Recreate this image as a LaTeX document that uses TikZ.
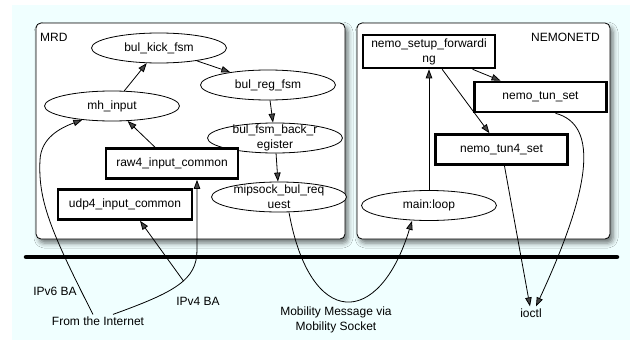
\documentclass[tikz,border=0pt]{standalone}
\usepackage{fontspec}
\setmainfont{Liberation Sans}
\usetikzlibrary{shapes.geometric,arrows.meta,shadows.blur}
\definecolor{bgcyan}{RGB}{240,255,255}

\begin{document}
\begin{tikzpicture}[x=1pt,y=-1pt,
  font=\fontsize{12}{15}\selectfont,
  every node/.style={align=center},
  fn/.style={ellipse, draw, line width=0.8pt, fill=white,
    minimum width=135pt, minimum height=30pt, inner sep=-4pt},
  bx/.style={rectangle, draw, line width=2.6pt, fill=white,
    minimum width=132pt, minimum height=30pt, inner sep=0pt},
  container/.style={draw, line width=0.8pt, fill=white, rounded corners=5pt,
    blur shadow={shadow xshift=3pt, shadow yshift=-4pt,
      shadow blur radius=5pt, shadow opacity=55}},
  lbl/.style={inner sep=2pt},
  arr/.style={line width=0.8pt, -{Triangle[length=9pt,width=6.5pt]}},
  bus/.style={line width=4.5pt, line cap=round}
]
\useasboundingbox (0,0) rectangle (630,340);
\fill[bgcyan] (12,5) rectangle (630,340);

% the two process boxes
\path[container] (36,23) rectangle (345,239);
\path[container] (357,23) rectangle (610,239);

% kernel boundary
\draw[bus] (26,257) -- (617,257);

\node[lbl, anchor=west] (mrdlabel) at (38,37) {MRD};
\node[lbl, anchor=east] (nemolabel) at (602,37) {NEMONETD};

% MRD functions
\node[fn] (kick) at (159,48) {bul\_kick\_fsm};
\node[fn] (reg) at (268,85) {bul\_reg\_fsm};
\node[fn] (mh) at (112,106) {mh\_input};
\node[fn] (back) at (275,138) {bul\_fsm\_back\_r\\egister};
\node[fn] (mipsock) at (279,197) {mipsock\_bul\_req\\uest};
\node[bx] (raw4) at (172,163.5) {raw4\_input\_common};
\node[bx, minimum width=134pt] (udp4) at (125,204.5) {udp4\_input\_common};

% NEMONETD functions
\node[bx, minimum height=33pt] (setup) at (429,51.5) {nemo\_setup\_forwardi\\ng};
\node[bx] (tunset) at (540.5,97) {nemo\_tun\_set};
\node[bx] (tunfour) at (501.5,149.5) {nemo\_tun4\_set};
\node[fn] (mainloop) at (429,205.5) {main:loop};

% outside labels
\node[lbl] (ipv6) at (55,291) {IPv6 BA};
\node[lbl] (ipv4) at (198,301) {IPv4 BA};
\node[lbl] (inet) at (98,321) {From the Internet};
\node[lbl] (mobmsg) at (336,320) {Mobility Message via\\Mobility Socket};
\node[lbl] (ioctl) at (531,313) {ioctl};

% calls inside MRD
\draw[arr] (mh) -- (kick);
\draw[arr] (kick) -- (reg);
\draw[arr] (reg) -- (back);
\draw[arr] (back) -- (mipsock);
\draw[arr] (raw4) -- (mh);

% calls inside NEMONETD
\draw[arr] (setup) -- (tunset);
\draw[arr] (setup) -- (tunfour);
\draw[arr] (mainloop) -- (setup);

% ioctl calls
\draw[arr] (tunfour) -- ([xshift=-1pt]ioctl.north);
\draw[arr] ([xshift=15pt]tunset.south) .. controls (600,125) and (590,190) .. ([xshift=5pt]ioctl.north);

% mobility socket message
\draw[arr] ([xshift=10pt]mipsock.south) .. controls (310,329) and (379,329) .. ([xshift=-17pt]mainloop.south);

% binding acks from the Internet
\coordinate (split) at (183.5,281);
\draw[arr] ([xshift=-5pt]inet.north) .. controls (50,230) and (38,200) .. (40,160)
  .. controls (41,138) and (60,128) .. (mh.205);
\draw[arr] ([xshift=15pt]inet.north) .. controls (175,292) and (197,280) .. (197,250)
  -- ([xshift=25pt]raw4.south);
\draw[arr] (split) -- ([xshift=15pt]udp4.south);
\end{tikzpicture}
\end{document}
